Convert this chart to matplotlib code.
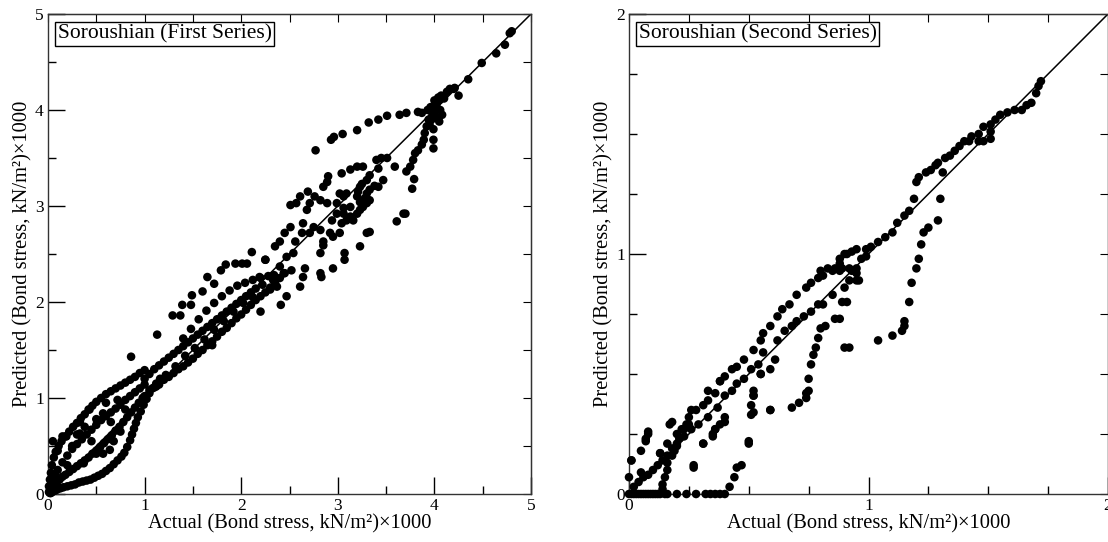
import numpy as np
import matplotlib
matplotlib.use("Agg")
import matplotlib.pyplot as plt

plt.rcParams["font.family"] = ["Liberation Serif", "DejaVu Serif"]

# ---- Soroushian, first series: (actual, predicted) ----
first_low = [(0.02, 0.01), (0.04, 0.02), (0.06, 0.03), (0.08, 0.04), (0.10, 0.05), (0.13, 0.06),
             (0.16, 0.07), (0.20, 0.08), (0.24, 0.09), (0.28, 0.10), (0.32, 0.12), (0.36, 0.13),
             (0.40, 0.14), (0.44, 0.15), (0.48, 0.17), (0.52, 0.19), (0.56, 0.21), (0.60, 0.24),
             (0.64, 0.27), (0.68, 0.31), (0.72, 0.35), (0.76, 0.39), (0.79, 0.43), (0.82, 0.49),
             (0.85, 0.56), (0.87, 0.62), (0.89, 0.68), (0.91, 0.74), (0.93, 0.80), (0.96, 0.86),
             (0.99, 0.93), (1.02, 0.99), (1.05, 1.05), (1.08, 1.10), (1.12, 1.15), (1.16, 1.20)]
first_mid = [(0.03, 0.05), (0.06, 0.09), (0.09, 0.12), (0.12, 0.15), (0.15, 0.18), (0.18, 0.20),
             (0.22, 0.23), (0.26, 0.26), (0.30, 0.29), (0.34, 0.32), (0.38, 0.35), (0.42, 0.38),
             (0.46, 0.42), (0.50, 0.45), (0.54, 0.49), (0.58, 0.53), (0.62, 0.57), (0.66, 0.61),
             (0.70, 0.66), (0.74, 0.70), (0.78, 0.75), (0.82, 0.80), (0.86, 0.85), (0.90, 0.90),
             (0.94, 0.95), (0.98, 1.00)]
first_up = [(0.01, 0.08), (0.02, 0.15), (0.03, 0.22), (0.04, 0.30), (0.06, 0.38), (0.08, 0.44),
            (0.11, 0.50), (0.14, 0.55), (0.18, 0.60), (0.22, 0.65), (0.26, 0.70), (0.30, 0.74),
            (0.34, 0.79), (0.38, 0.83), (0.42, 0.88), (0.46, 0.92), (0.50, 0.96), (0.55, 1.00),
            (0.60, 1.04), (0.65, 1.07), (0.70, 1.10), (0.75, 1.13), (0.80, 1.16), (0.85, 1.19),
            (0.90, 1.22), (0.95, 1.26), (1.00, 1.29)]
first_inner = [(0.05, 0.15), (0.10, 0.25), (0.15, 0.33), (0.20, 0.40), (0.25, 0.47), (0.30, 0.52),
               (0.35, 0.57), (0.40, 0.62), (0.45, 0.67), (0.50, 0.72), (0.55, 0.77), (0.60, 0.81),
               (0.65, 0.85), (0.70, 0.89), (0.75, 0.93), (0.80, 0.98), (0.85, 1.02), (0.90, 1.06),
               (0.95, 1.10), (1.00, 1.14)]
first_origin = [(0.05, 0.55), (0.10, 0.45), (0.15, 0.60), (0.19, 0.60), (0.25, 0.50), (0.33, 0.63),
                (0.33, 0.75), (0.43, 0.88), (0.57, 0.84), (0.50, 0.78), (0.64, 0.46), (0.50, 0.42),
                (0.37, 0.32), (0.60, 0.95), (0.65, 0.75), (0.38, 0.70), (0.20, 0.30), (0.30, 0.62),
                (0.45, 0.55), (0.68, 0.55), (0.75, 0.65), (0.57, 0.42), (0.72, 0.98), (0.80, 0.88),
                (0.01, 0.02), (0.02, 0.04), (0.03, 0.01), (0.05, 0.08), (0.07, 0.20)]
first_diag_low = [(1.00, 1.02), (1.05, 1.08), (1.10, 1.11), (1.15, 1.14), (1.20, 1.19), (1.25, 1.22),
                  (1.30, 1.26), (1.35, 1.30), (1.40, 1.33), (1.45, 1.37), (1.50, 1.41), (1.55, 1.46),
                  (1.60, 1.50), (1.65, 1.55), (1.70, 1.59), (1.75, 1.64), (1.80, 1.69), (1.85, 1.73),
                  (1.90, 1.78), (1.95, 1.83), (2.00, 1.87), (2.05, 1.92), (2.10, 1.97), (2.15, 2.02),
                  (2.20, 2.06), (2.25, 2.10), (2.30, 2.15), (2.35, 2.20), (2.40, 2.25), (2.45, 2.30)]
first_diag_up = [(1.00, 1.20), (1.05, 1.25), (1.10, 1.30), (1.15, 1.34), (1.20, 1.38), (1.25, 1.42),
                 (1.30, 1.46), (1.35, 1.50), (1.40, 1.54), (1.45, 1.58), (1.50, 1.62), (1.55, 1.66),
                 (1.60, 1.70), (1.65, 1.74), (1.70, 1.78), (1.75, 1.82), (1.80, 1.86), (1.85, 1.90),
                 (1.90, 1.94), (1.95, 1.98), (2.00, 2.02), (2.05, 2.06), (2.10, 2.10), (2.15, 2.14),
                 (1.12, 1.12), (1.22, 1.24), (1.32, 1.33), (1.42, 1.44), (1.52, 1.52), (1.62, 1.61),
                 (1.72, 1.71), (1.82, 1.80), (1.92, 1.90), (2.02, 1.99), (2.12, 2.05), (2.22, 2.18)]
first_arc_low = [(1.40, 1.62), (1.48, 1.72), (1.56, 1.82), (1.64, 1.91), (1.72, 1.99), (1.80, 2.06),
                 (1.88, 2.12), (1.96, 2.17), (2.04, 2.20), (2.12, 2.23), (2.20, 2.25), (2.28, 2.27),
                 (2.34, 2.28)]
first_scatter = [(0.86, 1.43), (1.13, 1.66), (1.29, 1.86), (1.37, 1.86), (1.39, 1.97), (1.48, 1.97),
                 (1.49, 2.07), (1.60, 2.11), (1.65, 2.26), (1.72, 2.19), (1.79, 2.33), (1.84, 2.39),
                 (1.94, 2.40), (2.01, 2.40), (2.06, 2.40), (2.11, 2.52), (2.25, 2.44), (1.70, 1.55),
                 (2.20, 1.90), (2.41, 1.97)]
first_mid_high = [(2.25, 2.44), (2.19, 2.26), (2.33, 2.23), (2.30, 2.13), (2.37, 2.16), (2.47, 2.06),
                  (2.44, 2.30), (2.52, 2.33), (2.40, 2.37), (2.47, 2.47), (2.54, 2.51), (2.35, 2.58),
                  (2.40, 2.63), (2.45, 2.72), (2.51, 2.78), (2.56, 2.63), (2.63, 2.72), (2.64, 2.82),
                  (2.71, 2.72), (2.75, 2.78), (2.82, 2.75), (2.85, 2.63), (2.85, 2.59), (2.82, 2.51),
                  (2.92, 2.72), (2.95, 2.68), (3.02, 2.72), (3.04, 2.82), (2.94, 2.85), (2.99, 2.92),
                  (3.06, 2.92), (3.09, 2.85), (3.13, 2.89), (3.16, 2.85), (3.20, 2.92), (3.23, 2.96),
                  (3.26, 2.99), (3.30, 3.03), (3.33, 3.06), (3.02, 3.13), (3.06, 3.10), (3.09, 3.13),
                  (2.99, 3.03), (2.89, 3.03), (2.82, 3.06), (2.76, 3.10), (2.71, 3.03), (2.68, 2.96),
                  (2.61, 3.10), (2.57, 3.03), (2.51, 3.01), (2.69, 3.15), (2.85, 3.20), (2.89, 3.25),
                  (2.90, 3.31), (3.04, 3.34), (3.13, 3.38), (3.20, 3.41), (3.26, 3.41), (3.40, 3.48),
                  (3.45, 3.50), (3.51, 3.50), (3.42, 3.39), (3.33, 3.32), (3.30, 3.27), (3.25, 3.23),
                  (3.23, 3.20), (3.21, 3.15), (3.20, 3.10), (3.23, 3.04), (3.28, 3.08), (3.30, 3.13),
                  (3.33, 3.17), (3.38, 3.21), (3.47, 3.27), (3.42, 3.20), (3.59, 3.41), (3.06, 2.98),
                  (3.13, 2.99), (3.23, 2.58), (3.33, 2.73), (3.30, 2.72), (3.07, 2.51), (3.07, 2.44),
                  (2.95, 2.35), (2.82, 2.30), (2.83, 2.26), (2.66, 2.35), (2.64, 2.26), (2.61, 2.16),
                  (3.61, 2.84), (3.68, 2.92), (3.70, 2.92)]
first_arc_high = [(2.77, 3.58), (2.93, 3.69), (2.96, 3.72), (3.05, 3.75), (3.20, 3.79), (3.32, 3.87),
                  (3.42, 3.90), (3.51, 3.94), (3.64, 3.95), (3.71, 3.97), (3.83, 3.98), (3.87, 3.97)]
first_top = [(3.71, 3.36), (3.75, 3.41), (3.78, 3.48), (3.80, 3.55), (3.83, 3.58), (3.87, 3.64),
             (3.89, 3.69), (3.90, 3.76), (3.92, 3.83), (3.94, 3.90), (3.77, 3.18), (3.79, 3.28),
             (3.99, 3.69), (3.99, 3.60), (3.95, 3.85), (3.97, 3.90), (3.98, 3.95), (4.00, 3.98),
             (4.01, 4.02), (4.02, 4.05), (4.03, 4.08), (4.05, 4.10), (4.06, 4.00), (4.08, 3.95),
             (4.05, 3.88), (3.93, 4.00), (3.96, 4.03), (4.00, 4.10), (4.04, 4.13), (4.07, 4.15),
             (3.99, 3.80), (4.10, 4.12), (4.02, 3.92), (4.13, 4.19), (4.16, 4.22), (4.20, 4.22),
             (4.21, 4.23), (4.25, 4.15), (4.35, 4.32), (4.49, 4.49), (4.64, 4.59), (4.73, 4.68),
             (4.78, 4.80), (4.80, 4.82)]

# ---- Soroushian, second series ----
second_zero = [(0.00, 0.00), (0.01, 0.00), (0.02, 0.00), (0.03, 0.00), (0.04, 0.00), (0.05, 0.00),
               (0.06, 0.00), (0.07, 0.00), (0.08, 0.00), (0.09, 0.00), (0.10, 0.00), (0.11, 0.00),
               (0.12, 0.00), (0.13, 0.00), (0.15, 0.00), (0.16, 0.00), (0.20, 0.00), (0.24, 0.00),
               (0.28, 0.00), (0.32, 0.00), (0.34, 0.00), (0.36, 0.00), (0.38, 0.00), (0.40, 0.00)]
second_origin = [(0.02, 0.03), (0.04, 0.05), (0.06, 0.07), (0.08, 0.08), (0.10, 0.10), (0.12, 0.12),
                 (0.14, 0.14), (0.16, 0.16), (0.18, 0.19), (0.20, 0.21), (0.00, 0.07), (0.01, 0.14),
                 (0.05, 0.09), (0.07, 0.22), (0.08, 0.25), (0.17, 0.29), (0.13, 0.17), (0.27, 0.12),
                 (0.31, 0.21), (0.50, 0.21), (0.33, 0.43), (0.38, 0.47), (0.40, 0.30), (0.36, 0.27),
                 (0.35, 0.25), (0.52, 0.34), (0.52, 0.41), (0.55, 0.50), (0.59, 0.35), (0.61, 0.56),
                 (0.59, 0.52)]
second_steep = [(0.14, 0.02), (0.14, 0.04), (0.15, 0.07), (0.16, 0.10), (0.16, 0.13), (0.18, 0.16),
                (0.19, 0.18), (0.20, 0.20), (0.21, 0.23), (0.23, 0.27), (0.24, 0.29), (0.25, 0.32),
                (0.26, 0.35), (0.27, 0.11), (0.31, 0.21), (0.35, 0.24), (0.36, 0.27), (0.38, 0.29),
                (0.40, 0.32)]
second_upper = [(0.01, 0.14), (0.05, 0.18), (0.07, 0.23), (0.08, 0.26), (0.13, 0.17), (0.16, 0.21),
                (0.18, 0.30), (0.20, 0.25), (0.22, 0.27), (0.25, 0.29), (0.28, 0.35), (0.31, 0.37),
                (0.33, 0.39), (0.36, 0.42), (0.38, 0.47), (0.40, 0.49), (0.43, 0.52), (0.45, 0.53),
                (0.48, 0.56), (0.52, 0.60), (0.55, 0.64), (0.56, 0.67), (0.59, 0.70), (0.62, 0.74),
                (0.64, 0.77), (0.67, 0.79), (0.70, 0.83), (0.74, 0.86), (0.76, 0.88), (0.79, 0.90),
                (0.81, 0.91), (0.85, 0.93), (0.88, 0.96), (0.91, 1.00), (0.95, 1.02)]
second_middle = [(0.23, 0.24), (0.26, 0.27), (0.29, 0.29), (0.33, 0.32), (0.37, 0.36), (0.40, 0.41),
                 (0.43, 0.43), (0.45, 0.46), (0.48, 0.48), (0.51, 0.52), (0.54, 0.54), (0.56, 0.59),
                 (0.62, 0.64), (0.65, 0.68), (0.68, 0.70), (0.70, 0.72), (0.73, 0.74), (0.76, 0.76),
                 (0.79, 0.79), (0.81, 0.79), (0.85, 0.83), (0.90, 0.86), (0.92, 0.89), (0.95, 0.92),
                 (0.80, 0.93), (0.83, 0.94), (0.86, 0.94), (0.89, 0.94), (0.92, 0.94), (0.95, 0.94)]
second_branch = [(0.42, 0.03), (0.44, 0.07), (0.45, 0.11), (0.47, 0.12), (0.50, 0.22), (0.51, 0.33),
                 (0.51, 0.37), (0.52, 0.41), (0.52, 0.43), (0.55, 0.50), (0.59, 0.35), (0.68, 0.36),
                 (0.71, 0.38), (0.74, 0.40), (0.74, 0.42), (0.75, 0.43), (0.75, 0.48), (0.76, 0.54),
                 (0.77, 0.58), (0.78, 0.61), (0.79, 0.65), (0.80, 0.69), (0.82, 0.70), (0.86, 0.73),
                 (0.89, 0.80), (0.90, 0.61), (0.95, 0.89)]
second_late = [(1.04, 0.64), (1.10, 0.66), (1.14, 0.68), (1.15, 0.70), (1.15, 0.72), (1.17, 0.80),
               (1.18, 0.88), (1.20, 0.94), (1.21, 0.98), (1.22, 1.04), (1.23, 1.09), (1.25, 1.11),
               (1.29, 1.14), (1.30, 1.23), (0.96, 0.89), (0.91, 0.80), (0.88, 0.73), (0.92, 0.61)]
second_high = [(0.88, 0.93), (0.93, 0.93), (0.88, 0.98), (0.90, 1.00), (0.93, 1.01), (0.97, 0.98),
               (0.99, 0.99), (0.99, 1.02), (1.01, 1.03), (1.04, 1.05), (1.07, 1.07), (1.10, 1.09),
               (1.12, 1.13), (1.15, 1.16), (1.17, 1.18), (1.19, 1.23), (1.20, 1.30), (1.21, 1.32),
               (1.24, 1.34), (1.26, 1.35), (1.28, 1.37), (1.29, 1.38), (1.32, 1.40), (1.31, 1.34),
               (1.34, 1.41), (1.36, 1.43), (1.38, 1.45), (1.40, 1.47), (1.42, 1.47), (1.43, 1.49),
               (1.46, 1.50), (1.46, 1.47), (1.48, 1.47), (1.51, 1.48), (1.51, 1.51), (1.48, 1.53),
               (1.51, 1.54), (1.53, 1.56), (1.55, 1.58), (1.58, 1.59), (1.61, 1.60), (1.64, 1.60),
               (1.66, 1.62), (1.68, 1.63), (1.70, 1.67), (1.71, 1.70), (1.72, 1.72)]

first = np.array(first_low + first_mid + first_up + first_inner + first_origin + first_diag_low
                 + first_diag_up + first_arc_low + first_scatter + first_mid_high
                 + first_arc_high + first_top)
second = np.array(second_zero + second_origin + second_steep + second_upper + second_middle
                  + second_branch + second_late + second_high)

panels = [
    ("Soroushian (First Series)", first, 5, [0, 1, 2, 3, 4, 5], np.arange(0, 5.01, 0.5)),
    ("Soroushian (Second Series)", second, 2, [0, 1, 2], np.arange(0, 2.01, 0.25)),
]

fig = plt.figure(figsize=(11.08, 5.42), dpi=100)
boxes = [[48 / 1108, 48 / 542, 483 / 1108, 480 / 542],
         [629 / 1108, 48 / 542, 479 / 1108, 480 / 542]]

for (title, pts, top, majors, minors), box in zip(panels, boxes):
    ax = fig.add_axes(box)
    ax.plot([0, top], [0, top], color="black", lw=1.1, zorder=2)
    ax.scatter(pts[:, 0], pts[:, 1], s=38, color="black", edgecolors="none", zorder=3,
               clip_on=False)
    ax.set_xlim(0, top)
    ax.set_ylim(0, top)
    ax.set_xticks(majors)
    ax.set_yticks(majors)
    ax.set_xticks(minors, minor=True)
    ax.set_yticks(minors, minor=True)
    ax.tick_params(which="major", direction="in", length=12, width=1, labelsize=12.5, pad=3)
    ax.tick_params(which="minor", direction="in", length=6, width=1)
    for sp in ax.spines.values():
        sp.set_linewidth(1.0)
        sp.set_color("#333333")
    secx = ax.secondary_xaxis("top")
    secx.set_xticks(minors)
    secx.tick_params(direction="in", length=6, labeltop=False)
    secy = ax.secondary_yaxis("right")
    secy.set_yticks(minors)
    secy.tick_params(direction="in", length=6, labelright=False)
    ax.set_xlabel("Actual (Bond stress, kN/m²)×1000", fontsize=14.8, labelpad=0)
    ax.set_ylabel("Predicted (Bond stress, kN/m²)×1000", fontsize=14.8, labelpad=2)
    ax.text(0.02, 0.978, title, transform=ax.transAxes, fontsize=15.5, va="top", ha="left",
            bbox=dict(boxstyle="square,pad=0.12", facecolor="white", edgecolor="black", lw=1),
            zorder=5)

fig.savefig("out.png", dpi=100)
